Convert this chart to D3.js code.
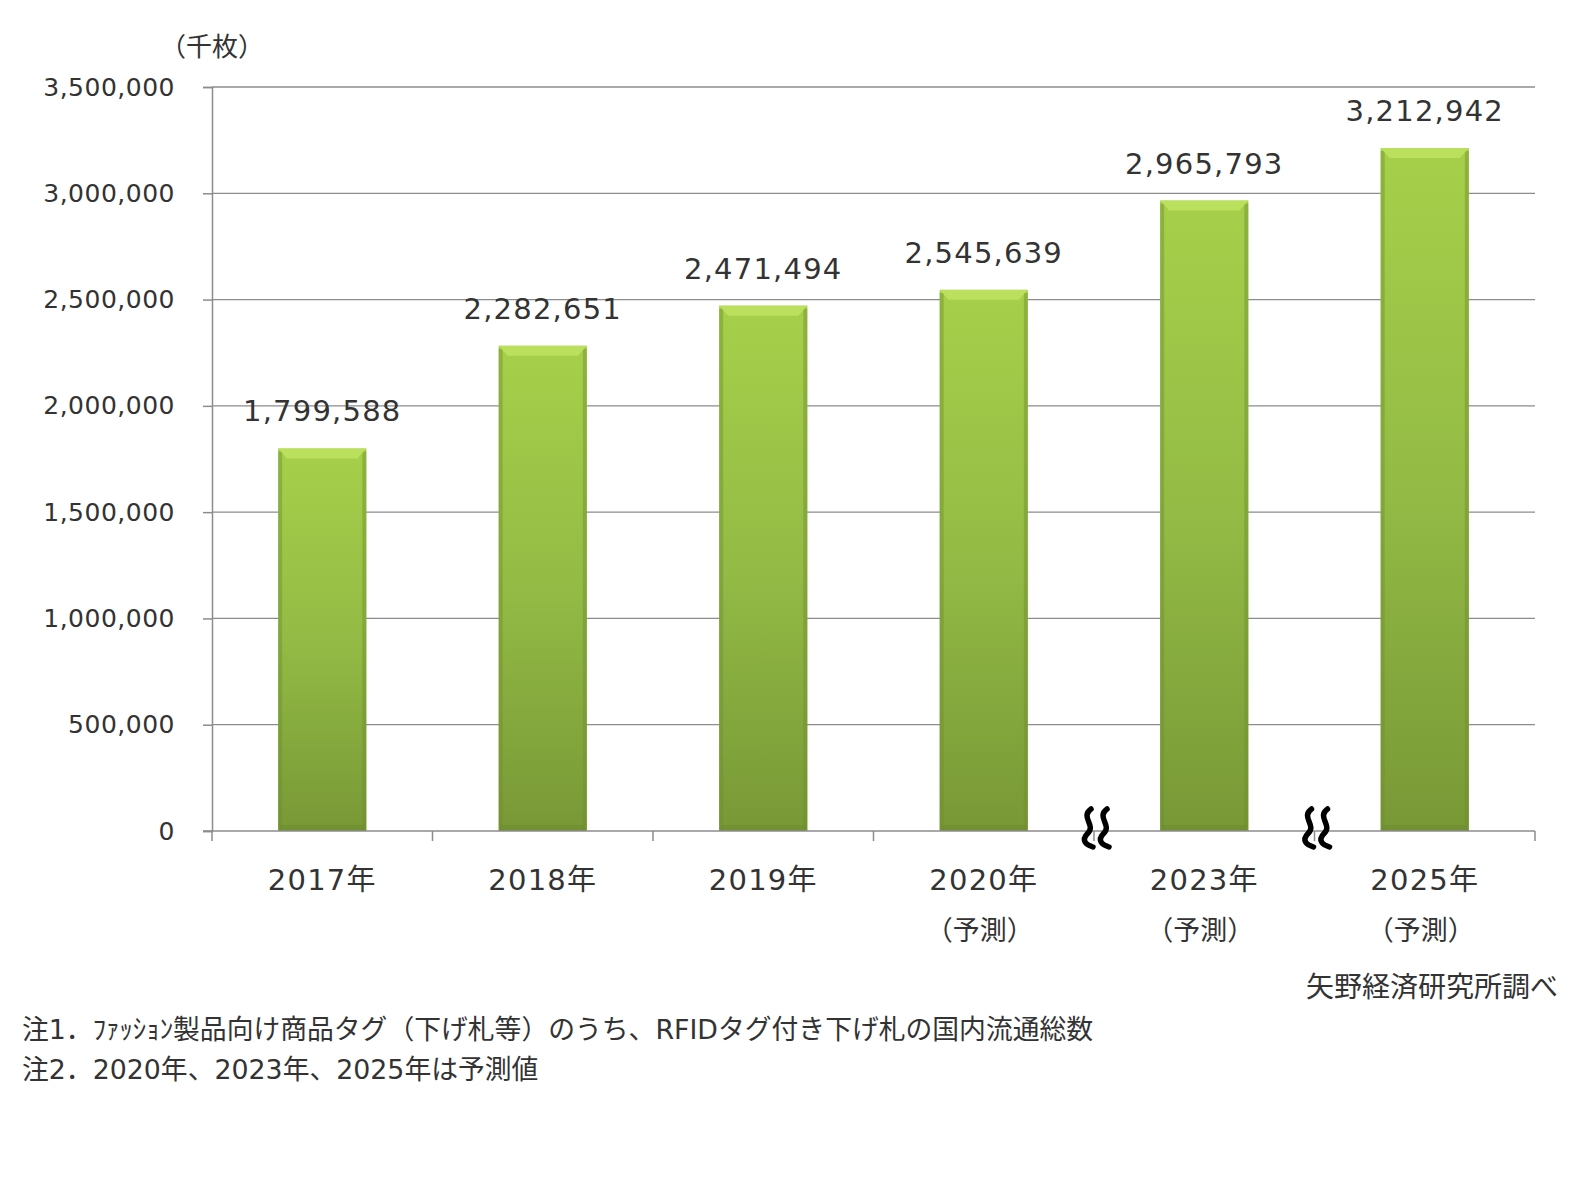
<!DOCTYPE html>
<html>
<head>
<meta charset="utf-8">
<script src="https://d3js.org/d3.v7.min.js"></script>
<style>
  body { margin: 0; background: #fff; }
  svg text { font-family: "DejaVu Sans", "Noto Sans CJK JP", sans-serif; fill: #333; }
</style>
</head>
<body>
<div id="chart"></div>
<script>
// data
var years = ["2017年", "2018年", "2019年", "2020年", "2023年", "2025年"];
var subLabels = ["", "", "", "（予測）", "（予測）", "（予測）"];
var values = [1799588, 2282651, 2471494, 2545639, 2965793, 3212942];
var yTicks = [0, 500000, 1000000, 1500000, 2000000, 2500000, 3000000, 3500000];
var breaksAfter = ["2020年", "2023年"];  // axis is cut after these categories
var unitLabel = "（千枚）";
var source = "矢野経済研究所調べ";
var notes = [
  "注1．ﾌｧｯｼｮﾝ製品向け商品タグ（下げ札等）のうち、RFIDタグ付き下げ札の国内流通総数",
  "注2．2020年、2023年、2025年は予測値"
];

var width = 1583, height = 1200;
var plotLeft = 212, plotRight = 1535, plotTop = 87, plotBottom = 831;

var svg = d3.select("#chart").append("svg").attr("width", width).attr("height", height);

var x = d3.scaleBand().domain(years).range([plotLeft, plotRight]).paddingInner(0.6).paddingOuter(0.3);
var y = d3.scaleLinear().domain([0, 3500000]).range([plotBottom, plotTop]);
var fmt = d3.format(",");

// gradient
var defs = svg.append("defs");
var g1 = defs.append("linearGradient").attr("id", "barFill").attr("x1", 0).attr("y1", 0).attr("x2", 0).attr("y2", 1);
g1.append("stop").attr("offset", "0%").attr("stop-color", "#a6d04a");
g1.append("stop").attr("offset", "50%").attr("stop-color", "#93bb45");
g1.append("stop").attr("offset", "100%").attr("stop-color", "#789836");

// gridlines
svg.append("g").selectAll("line").data(yTicks.filter(function(d) { return d > 0; }))
  .enter().append("line")
  .attr("x1", plotLeft).attr("x2", plotRight)
  .attr("y1", function(d) { return y(d); }).attr("y2", function(d) { return y(d); })
  .attr("stroke", "#8c8c8c").attr("stroke-width", 1.3);

// y axis
var yAxis = svg.append("g").attr("transform", "translate(" + plotLeft + ",0)")
  .call(d3.axisLeft(y).tickValues(yTicks).tickSize(9).tickPadding(28).tickFormat(fmt));
yAxis.select(".domain").attr("stroke", "#8c8c8c").attr("stroke-width", 1.5);
yAxis.selectAll(".tick line").attr("stroke", "#8c8c8c").attr("stroke-width", 1.5);
yAxis.selectAll(".tick text").attr("font-size", 25).attr("letter-spacing", 0.5)
  .attr("font-family", null).attr("fill", "#333");

// bars
var bars = svg.append("g").selectAll("g").data(values).enter().append("g");
bars.append("rect")
  .attr("x", function(d, i) { return x(years[i]); })
  .attr("y", function(d) { return y(d); })
  .attr("width", x.bandwidth())
  .attr("height", function(d) { return plotBottom - y(d); })
  .attr("fill", "url(#barFill)");
// darker side strips
bars.append("rect")
  .attr("x", function(d, i) { return x(years[i]); })
  .attr("y", function(d) { return y(d) + 3; })
  .attr("width", 4)
  .attr("height", function(d) { return plotBottom - y(d) - 3; })
  .attr("fill", "#6f8f2e").attr("opacity", 0.45);
bars.append("rect")
  .attr("x", function(d, i) { return x(years[i]) + x.bandwidth() - 4; })
  .attr("y", function(d) { return y(d) + 3; })
  .attr("width", 4)
  .attr("height", function(d) { return plotBottom - y(d) - 3; })
  .attr("fill", "#6f8f2e").attr("opacity", 0.45);
// bottom shade
bars.append("rect")
  .attr("x", function(d, i) { return x(years[i]) + 2; })
  .attr("y", plotBottom - 6)
  .attr("width", x.bandwidth() - 4)
  .attr("height", 6)
  .attr("fill", "#6c8a30").attr("opacity", 0.5);
// top bevel
bars.append("path")
  .attr("d", function(d, i) {
    var x0 = x(years[i]), x1 = x0 + x.bandwidth(), y0 = y(d);
    return "M" + x0 + "," + y0 + "L" + x1 + "," + y0 + "L" + (x1 - 9) + "," + (y0 + 10) +
      "L" + (x0 + 9) + "," + (y0 + 10) + "Z";
  })
  .attr("fill", "#bbe05e");

// data labels
svg.append("g").selectAll("text").data(values).enter().append("text")
  .attr("x", function(d, i) { return x(years[i]) + x.bandwidth() / 2; })
  .attr("y", function(d) { return y(d) - 27; })
  .attr("text-anchor", "middle")
  .attr("font-size", 29).attr("letter-spacing", 1.2)
  .text(function(d) { return fmt(d); });

// x axis
var xAxis = svg.append("g");
xAxis.append("line").attr("x1", plotLeft - 9).attr("x2", plotRight).attr("y1", plotBottom).attr("y2", plotBottom)
  .attr("stroke", "#8c8c8c").attr("stroke-width", 1.5);
var bounds = years.map(function(c) { return x(c) - x.step() * x.paddingInner() / 2; }).concat([plotRight]);
xAxis.selectAll("line.tk").data(bounds).enter().append("line").attr("class", "tk")
  .attr("x1", function(d) { return d; }).attr("x2", function(d) { return d; })
  .attr("y1", plotBottom).attr("y2", plotBottom + 10)
  .attr("stroke", "#8c8c8c").attr("stroke-width", 1.5);

xAxis.selectAll("text.cat").data(years).enter().append("text").attr("class", "cat")
  .attr("x", function(d) { return x(d) + x.bandwidth() / 2; })
  .attr("y", 890)
  .attr("text-anchor", "middle").attr("font-size", 29).attr("letter-spacing", 1.2)
  .text(function(d) { return d; });
xAxis.selectAll("text.sub").data(subLabels).enter().append("text").attr("class", "sub")
  .attr("x", function(d, i) { return x(years[i]) + x.bandwidth() / 2 - 4; })
  .attr("y", 940)
  .attr("text-anchor", "middle").attr("font-size", 27)
  .text(function(d) { return d; });

// axis break marks
var breaks = svg.append("g").selectAll("g").data(breaksAfter).enter().append("g")
  .attr("transform", function(d) { return "translate(" + (x(d) + x.bandwidth() + x.step() * x.paddingInner() / 2 + 3) + "," + plotBottom + ")"; });
[-8, 8].forEach(function(dx) {
  breaks.append("path")
    .attr("d", "M" + (dx + 2) + ",-22 C" + (dx - 9) + ",-14 " + (dx + 7) + ",-6 " + (dx - 1) + ",2 C" + (dx - 9) + ",10 " + (dx - 2) + ",14 " + (dx + 4) + ",16")
    .attr("fill", "none").attr("stroke", "#000").attr("stroke-width", 5.5).attr("stroke-linecap", "round");
});

// unit, source, notes
svg.append("text").attr("x", 212).attr("y", 56).attr("text-anchor", "middle").attr("font-size", 26).text(unitLabel);
svg.append("text").attr("x", 1558).attr("y", 997).attr("text-anchor", "end").attr("font-size", 28).text(source);
svg.append("g").selectAll("text").data(notes).enter().append("text")
  .attr("x", 22).attr("y", function(d, i) { return 1039 + i * 40; })
  .attr("font-size", 26.8)
  .text(function(d) { return d; });
</script>
</body>
</html>
